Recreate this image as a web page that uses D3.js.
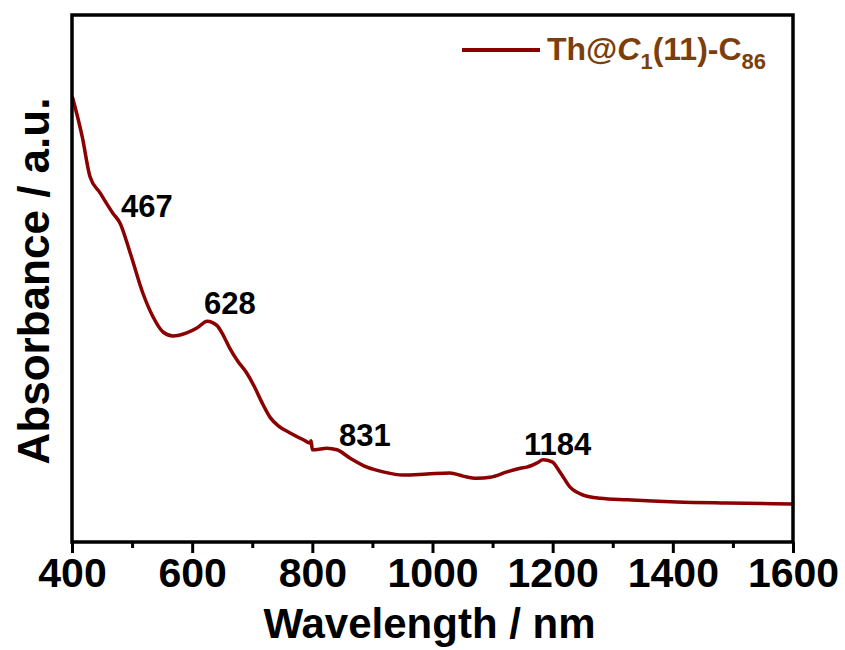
<!DOCTYPE html>
<html>
<head>
<meta charset="utf-8">
<script src="https://cdn.jsdelivr.net/npm/d3@7"></script>
<style>
  html, body { margin: 0; padding: 0; background: #fff; }
  svg { display: block; }
  text { font-family: "Liberation Sans", Arial, sans-serif; font-weight: bold; }
</style>
</head>
<body>
<svg id="chart" width="845" height="650"></svg>
<script>
// Wavelength (nm) and absorbance (a.u.)
const wavelength = [401, 417, 430, 447, 468, 480, 497, 518, 535, 552, 568, 591, 608, 625, 641, 650, 662, 676, 690, 703, 716, 730, 745, 763, 785, 796, 798, 800, 804, 824, 841, 863, 891, 918, 951, 991, 1029, 1051, 1074, 1096, 1124, 1146, 1157, 1174, 1184, 1199, 1212, 1229, 1251, 1279, 1324, 1407, 1490, 1600];
const absorbance = [0.843, 0.769, 0.693, 0.662, 0.624, 0.605, 0.548, 0.472, 0.427, 0.398, 0.391, 0.397, 0.406, 0.419, 0.411, 0.396, 0.369, 0.343, 0.322, 0.296, 0.265, 0.236, 0.219, 0.207, 0.194, 0.188, 0.192, 0.175, 0.175, 0.178, 0.175, 0.159, 0.142, 0.133, 0.127, 0.129, 0.131, 0.125, 0.121, 0.123, 0.133, 0.140, 0.142, 0.150, 0.156, 0.152, 0.133, 0.104, 0.089, 0.083, 0.080, 0.076, 0.074, 0.072];
const xTicks = [400, 600, 800, 1000, 1200, 1400, 1600];
const xMinorTicks = [500, 700, 900, 1100, 1300, 1500];
const peakLabels = ["467", "628", "831", "1184"];
const seriesName = "Th@C1(11)-C86";

const data = wavelength.map((w, i) => ({ x: w, y: absorbance[i] }));

const svg = d3.select("#chart");
const mL = 72, mR = 793, mT = 15, mB = 542;
const x = d3.scaleLinear().domain([400, 1600]).range([mL, mR]);
const y = d3.scaleLinear().domain([0, 1]).range([mB, mT]);

const lineColor = "#8b0000";

// Curve
const line = d3.line().x(d => x(d.x)).y(d => y(d.y)).curve(d3.curveMonotoneX);
svg.append("path")
  .datum(data)
  .attr("d", line)
  .attr("fill", "none")
  .attr("stroke", lineColor)
  .attr("stroke-width", 3.5)
  .attr("stroke-linejoin", "round")
  .attr("stroke-linecap", "round");

// Frame
svg.append("rect")
  .attr("x", mL).attr("y", mT)
  .attr("width", mR - mL).attr("height", mB - mT)
  .attr("fill", "none").attr("stroke", "#000").attr("stroke-width", 3.5);

// X axis (major)
const xAxis = d3.axisBottom(x).tickValues(xTicks).tickSize(11).tickPadding(5).tickFormat(d3.format("d"));
const gx = svg.append("g").attr("transform", `translate(0,${mB})`).call(xAxis);
gx.select(".domain").remove();
gx.selectAll(".tick line").attr("stroke", "#000").attr("stroke-width", 3);
gx.selectAll(".tick text")
  .attr("fill", "#000")
  .style("font-size", "41px")
  .style("font-family", '"Liberation Sans", Arial, sans-serif')
  .style("font-weight", "bold");

// X axis (minor)
const xMinor = d3.axisBottom(x).tickValues(xMinorTicks).tickSize(6).tickFormat("");
const gxm = svg.append("g").attr("transform", `translate(0,${mB})`).call(xMinor);
gxm.select(".domain").remove();
gxm.selectAll(".tick line").attr("stroke", "#000").attr("stroke-width", 3);

// Axis titles
svg.append("text")
  .attr("x", (mL + mR) / 2 - 3).attr("y", 638)
  .attr("text-anchor", "middle")
  .style("font-size", "42px")
  .text("Wavelength / nm");

svg.append("text")
  .attr("transform", `translate(49,281) rotate(-90)`)
  .attr("text-anchor", "middle")
  .style("font-size", "44px")
  .text("Absorbance / a.u.");

// Peak labels
const labelPos = [[121, 217], [204, 314], [339, 446], [524, 455]];
svg.selectAll(".peak")
  .data(peakLabels)
  .enter().append("text")
  .attr("class", "peak")
  .attr("x", (d, i) => labelPos[i][0])
  .attr("y", (d, i) => labelPos[i][1])
  .style("font-size", "31px")
  .attr("fill", "#000")
  .text(d => d);

// Legend
svg.append("line")
  .attr("x1", 462).attr("x2", 540).attr("y1", 50).attr("y2", 50)
  .attr("stroke", lineColor).attr("stroke-width", 4);

const legendColor = "#7b3f0c";
const lt = svg.append("text")
  .attr("x", 547).attr("y", 60)
  .attr("fill", legendColor)
  .style("font-size", "32px");
lt.append("tspan").text("Th@");
lt.append("tspan").style("font-style", "italic").text("C");
lt.append("tspan").attr("dy", 9).style("font-size", "22px").text("1");
lt.append("tspan").attr("dy", -9).text("(11)-C");
lt.append("tspan").attr("dy", 9).style("font-size", "22px").text("86");
</script>
</body>
</html>
